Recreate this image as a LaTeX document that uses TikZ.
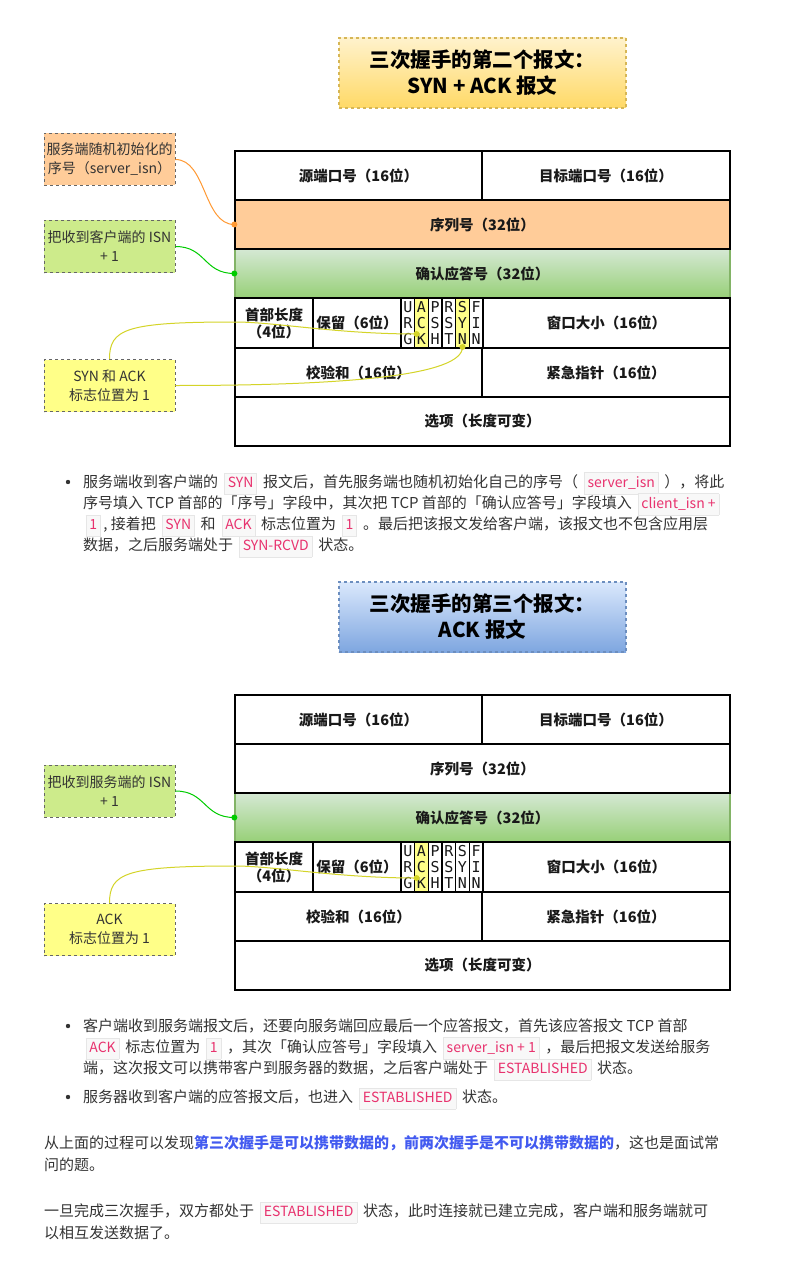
\documentclass[tikz,border=0pt]{standalone}
\usepackage{fontspec}
\setmainfont{Noto Sans CJK SC}
\newfontfamily\monof{DejaVu Sans Mono}
\definecolor{txt}{RGB}{51,51,51}
\definecolor{orangefill}{RGB}{255,204,153}
\definecolor{greenTop}{RGB}{213,232,212}
\definecolor{greenBot}{RGB}{151,208,119}
\definecolor{greenBorder}{RGB}{130,179,102}
\definecolor{noteGreen}{RGB}{205,235,139}
\definecolor{noteYellow}{RGB}{255,255,136}
\definecolor{flagY}{RGB}{255,255,136}
\definecolor{tAtop}{RGB}{255,242,204}
\definecolor{tAbot}{RGB}{255,217,102}
\definecolor{tAborder}{RGB}{214,182,86}
\definecolor{tBtop}{RGB}{218,232,252}
\definecolor{tBbot}{RGB}{126,166,224}
\definecolor{tBborder}{RGB}{108,142,191}
\definecolor{conOrange}{RGB}{255,153,51}
\definecolor{conGreen}{RGB}{0,204,0}
\definecolor{conYellow}{RGB}{212,212,40}
\definecolor{codepink}{RGB}{232,50,110}
\definecolor{codebg}{RGB}{248,248,248}
\definecolor{codeborder}{RGB}{230,230,230}
\definecolor{blueb}{RGB}{66,90,240}
\newcommand\cd[1]{\hspace{2.5pt}{\setlength{\fboxsep}{3pt}\setlength{\fboxrule}{0.7pt}\fcolorbox{codeborder}{codebg}{\textcolor{codepink}{\fontsize{14}{14}\selectfont\vphantom{Ag}#1}}}\hspace{2.5pt}}
\tikzset{
  cell/.style={draw=black, line width=1.3pt, fill=white, inner sep=0pt, font=\bfseries\fontsize{14.5}{17}\selectfont, text=black!90, align=center},
  ackrow/.style={draw=greenBorder, line width=1.3pt, top color=greenTop, bottom color=greenBot, inner sep=0pt, font=\bfseries\fontsize{14.5}{17}\selectfont, text=black!90},
  notebox/.style={draw=black!60, dashed, line width=0.7pt, minimum width=131, minimum height=52, align=center, inner sep=1pt, font=\fontsize{14}{19}\selectfont, text=txt},
  titleA/.style={draw=tAborder, dashed, line width=1.2pt, top color=tAtop, bottom color=tAbot, minimum width=287, minimum height=70, align=center, font=\bfseries\fontsize{20.5}{26}\selectfont},
  titleB/.style={draw=tBborder, dashed, line width=1.2pt, top color=tBtop, bottom color=tBbot, minimum width=287, minimum height=70, align=center, font=\bfseries\fontsize{20.5}{26}\selectfont},
  para/.style={anchor=base west, inner sep=0pt, text=txt, font=\fontsize{15}{21}\selectfont},
  con/.style={line width=1pt},
}
\newcommand\tcptable[4]{%
\begin{scope}[yshift=-#2pt]
\node[cell, minimum width=247, minimum height=49] (#1src) at (358.5,-24.5) {源端口号（16位）};
\node[cell, minimum width=248, minimum height=49] (#1dst) at (606,-24.5) {目标端口号（16位）};
\node[ackrow, minimum width=495, minimum height=49] (#1ack) at (482.5,-122.5) {确认应答号（32位）};
\node[cell, #3, minimum width=495, minimum height=49] (#1seq) at (482.5,-73.5) {序列号（32位）};
\node[cell, minimum width=78, minimum height=50] (#1hl) at (274,-172) {首部长度\\（4位）};
\node[cell, minimum width=88, minimum height=50] (#1rsv) at (357,-172) {保留（6位）};
\foreach \la/\lb/\lc/\ff [count=\i] in {U/R/G/white, A/C/K/flagY, P/S/H/white, R/S/T/white, S/Y/N/#4, F/I/N/white}{
  \node[cell, fill=\ff, minimum width=13.667, minimum height=50, font=\monof\fontsize{15}{16}\selectfont] (#1f\i) at ({401+(\i-0.5)*13.667},-172) {\la\\\lb\\\lc};
}
\node[cell, minimum width=247, minimum height=50] (#1win) at (606.5,-172) {窗口大小（16位）};
\node[cell, minimum width=247, minimum height=49] (#1chk) at (358.5,-221.5) {校验和（16位）};
\node[cell, minimum width=248, minimum height=49] (#1urg) at (606,-221.5) {紧急指针（16位）};
\node[cell, minimum width=495, minimum height=49] (#1opt) at (482.5,-270.5) {选项（长度可变）};
\coordinate (#1dA) at (416.5,-183);
\coordinate (#1dS) at (462.5,-196);
\coordinate (#1ym) at (235,-171);
\end{scope}}
\begin{document}
\begin{tikzpicture}[x=1pt,y=1pt]
\fill[white] (0,0) rectangle (784,-1273);
\path[use as bounding box] (0,0) rectangle (784,-1273);

% ---------- diagram 1 ----------
\node[titleA] (TA) at (482.5,-73) {三次握手的第二个报文：\\SYN + ACK 报文};
\tcptable{a}{151}{fill=orangefill}{flagY}

\node[notebox, fill=orangefill] (n1) at (109.5,-159.5) {服务端随机初始化的\\序号（server\_isn）};
\node[notebox, fill=noteGreen] (n2) at (109.5,-246.5) {把收到客户端的 ISN\\+ 1};
\node[notebox, fill=noteYellow] (n3) at (109.5,-385.5) {SYN 和 ACK\\标志位置为 1};

\draw[con, conOrange] (n1.east) .. controls +(31,0) and +(-31,0) .. (aseq.west);
\fill[conOrange] (aseq.west) circle (3);
\draw[con, conGreen] (n2.east) .. controls +(31,0) and +(-31,0) .. (aack.west);
\fill[conGreen] (aack.west) circle (3);
\draw[con, conYellow] (n3.north) .. controls +(0,30) and +(-110,0) .. (aym) .. controls +(40,0) and +(-80,0) .. (adA);
\fill[conYellow] (adA) circle (3);
\draw[con, conYellow] (n3.east) .. controls +(176,0) and +(0,-28) .. (adS);
\fill[conYellow] (adS) circle (3);

% ---------- paragraph 1 ----------
\fill[txt] (68,-482) circle (2.2);
\node[para] (p1a) at (83,-487) {服务端收到客户端的 \cd{SYN} 报文后，首先服务端也随机初始化自己的序号（ \cd{server\_isn} ），将此};
\node[para] (p1b) at (83,-508) {序号填入 TCP 首部的「序号」字段中，其次把 TCP 首部的「确认应答号」字段填入 \cd{client\_isn +}};
\node[para] (p1c) at (83,-529) {\cd{1}, 接着把 \cd{SYN} 和 \cd{ACK} 标志位置为 \cd{1} 。最后把该报文发给客户端，该报文也不包含应用层};
\node[para] (p1d) at (83,-550) {数据，之后服务端处于 \cd{SYN-RCVD} 状态。};

% ---------- diagram 2 ----------
\node[titleB] (TB) at (482.5,-617) {三次握手的第三个报文：\\ACK 报文};
\tcptable{b}{695}{fill=white}{white}

\node[notebox, fill=noteGreen] (n4) at (109.5,-791) {把收到服务端的 ISN\\+ 1};
\node[notebox, fill=noteYellow] (n5) at (109.5,-929.5) {ACK\\标志位置为 1};

\draw[con, conGreen] (n4.east) .. controls +(31,0) and +(-31,0) .. (back.west);
\fill[conGreen] (back.west) circle (3);
\draw[con, conYellow] (n5.north) .. controls +(0,30) and +(-110,0) .. (bym) .. controls +(40,0) and +(-80,0) .. (bdA);
\fill[conYellow] (bdA) circle (3);

% ---------- paragraph 2 ----------
\fill[txt] (68,-1026) circle (2.2);
\node[para] (p2a) at (83,-1031) {客户端收到服务端报文后，还要向服务端回应最后一个应答报文，首先该应答报文 TCP 首部};
\node[para] (p2b) at (83,-1052) {\cd{ACK} 标志位置为 \cd{1} ，其次「确认应答号」字段填入 \cd{server\_isn + 1} ，最后把报文发送给服务};
\node[para] (p2c) at (83,-1073) {端，这次报文可以携带客户到服务器的数据，之后客户端处于 \cd{ESTABLISHED} 状态。};
\fill[txt] (68,-1097) circle (2.2);
\node[para] (p2d) at (83,-1102) {服务器收到客户端的应答报文后，也进入 \cd{ESTABLISHED} 状态。};

% ---------- paragraphs 3, 4 ----------
\node[para] (p3a) at (44,-1148) {从上面的过程可以发现\textcolor{blueb}{\bfseries 第三次握手是可以携带数据的，前两次握手是不可以携带数据的}，这也是面试常};
\node[para] (p3b) at (44,-1170) {问的题。};
\node[para] (p4a) at (44,-1216) {一旦完成三次握手，双方都处于 \cd{ESTABLISHED} 状态，此时连接就已建立完成，客户端和服务端就可};
\node[para] (p4b) at (44,-1238) {以相互发送数据了。};
\end{tikzpicture}
\end{document}
